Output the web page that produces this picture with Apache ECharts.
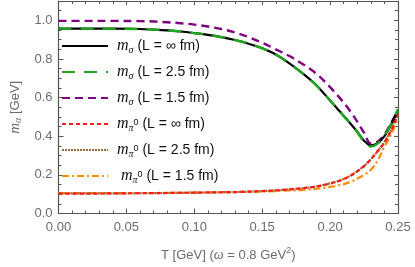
<!DOCTYPE html>
<html>
<head>
<meta charset="utf-8">
<script src="https://cdn.jsdelivr.net/npm/echarts@6/dist/echarts.min.js"></script>
<style>html,body{margin:0;padding:0;background:#fff}#c{width:415px;height:267px}</style>
</head>
<body>
<div id="c"></div>
<script>
const T = [0, 0.02, 0.04, 0.06, 0.07, 0.08, 0.09, 0.10, 0.11, 0.12, 0.13, 0.14, 0.15, 0.16, 0.17, 0.18, 0.19, 0.20, 0.205, 0.21, 0.215, 0.22, 0.225, 0.23, 0.235, 0.24, 0.245, 0.25];
const sigmaInf = [0.957, 0.957, 0.957, 0.955, 0.952, 0.948, 0.942, 0.934, 0.925, 0.913, 0.898, 0.879, 0.855, 0.823, 0.777, 0.724, 0.663, 0.585, 0.545, 0.505, 0.465, 0.423, 0.377, 0.352, 0.364, 0.400, 0.462, 0.537];
const sigma25 = [0.957, 0.957, 0.957, 0.955, 0.952, 0.948, 0.942, 0.934, 0.925, 0.913, 0.898, 0.879, 0.855, 0.823, 0.777, 0.724, 0.663, 0.585, 0.545, 0.505, 0.465, 0.422, 0.372, 0.346, 0.362, 0.403, 0.465, 0.540];
const sigma15 = [0.997, 0.997, 0.997, 0.996, 0.994, 0.990, 0.985, 0.978, 0.968, 0.955, 0.937, 0.913, 0.884, 0.850, 0.815, 0.773, 0.723, 0.654, 0.615, 0.574, 0.528, 0.476, 0.418, 0.362, 0.372, 0.410, 0.470, 0.535];
const piInf = [0.103, 0.103, 0.104, 0.105, 0.105, 0.106, 0.107, 0.108, 0.109, 0.110, 0.111, 0.113, 0.116, 0.120, 0.125, 0.131, 0.140, 0.155, 0.165, 0.178, 0.195, 0.218, 0.245, 0.280, 0.322, 0.368, 0.430, 0.515];
const pi25 = [0.104, 0.104, 0.104, 0.105, 0.105, 0.106, 0.107, 0.108, 0.109, 0.110, 0.111, 0.113, 0.116, 0.120, 0.125, 0.131, 0.140, 0.156, 0.166, 0.179, 0.196, 0.219, 0.246, 0.281, 0.323, 0.370, 0.432, 0.515];
const pi15 = [0.105, 0.105, 0.105, 0.106, 0.106, 0.107, 0.107, 0.108, 0.109, 0.110, 0.111, 0.112, 0.114, 0.116, 0.119, 0.122, 0.128, 0.138, 0.144, 0.152, 0.164, 0.180, 0.200, 0.226, 0.275, 0.345, 0.410, 0.490];
const xTicks = [0, 0.05, 0.10, 0.15, 0.20, 0.25];
const yTicks = [0, 0.2, 0.4, 0.6, 0.8, 1.0];

const names = ['sInf', 's25', 's15', 'pInf', 'p25', 'p15'];
const labels = {
  sInf: '{i|m}{sub|σ}{t| (L = ∞ fm)}',
  s25: '{i|m}{sub|σ}{t| (L = 2.5 fm)}',
  s15: '{i|m}{sub|σ}{t| (L = 1.5 fm)}',
  pInf: '{i|m}{sub|π}{sup|0}{t| (L = ∞ fm)}',
  p25: '{i|m}{sub|π}{sup|0}{t| (L = 2.5 fm)}',
  p15: '{sp| }{i|m}{sub|π}{sup|0}{t| (L = 1.5 fm)}'
};
const dataSets = [sigmaInf, sigma25, sigma15, piInf, pi25, pi15];
const styles = [
  {color: '#000000', width: 2.2, type: 'solid'},
  {color: '#1fa81f', width: 2.4, type: [13, 9]},
  {color: '#800080', width: 2.4, type: [8, 5]},
  {color: '#ff1a1a', width: 2.2, type: [4, 3]},
  {color: '#9a6a3a', width: 2.2, type: [2, 1]},
  {color: '#ff8a00', width: 2.2, type: [7, 3, 2, 3]}
];

const series = names.map((n, k) => ({
  name: n,
  type: 'line',
  data: T.map((t, i) => [t, dataSets[k][i]]),
  showSymbol: false,
  symbol: 'none',
  smooth: 0.35,
  lineStyle: styles[k],
  itemStyle: {color: styles[k].color},
  z: 10 - k
}));
series[0].z = 11; series[1].z = 12;

const axisColor = '#555';
const labelColor = '#6b6b6b';
const base = {fontFamily: 'Liberation Sans, Arial', color: labelColor, fontSize: 13};
const legRich = {
  i: {fontFamily: 'Liberation Serif', fontStyle: 'italic', fontSize: 16, color: '#111', lineHeight: 20},
  sub: {fontFamily: 'Liberation Serif', fontStyle: 'italic', fontSize: 10, color: '#111', lineHeight: 10, padding: [8, 0, 0, 0]},
  sup: {fontFamily: 'Liberation Sans', fontSize: 9, color: '#111', lineHeight: 9, padding: [0, 0, 2, 0]},
  t: {fontFamily: 'Liberation Sans', fontSize: 14, color: '#111', lineHeight: 20},
  sp: {fontSize: 13, lineHeight: 20, width: 4}
};

const chart = echarts.init(document.getElementById('c'), null, {renderer: 'canvas'});
chart.setOption({
  animation: false,
  backgroundColor: '#fff',
  grid: {left: 52, right: 17, top: 1, bottom: 53},
  legend: {
    orient: 'vertical', left: 56, top: 32,
    itemWidth: 46, itemHeight: 12, itemGap: 8,
    data: names,
    formatter: n => labels[n],
    itemStyle: {opacity: 0, color: 'transparent', borderWidth: 0},
    textStyle: {rich: legRich, padding: [0, 0, 0, 4]}
  },
  xAxis: [{
    type: 'value', min: 0, max: 0.25, interval: 0.05, position: 'bottom',
    axisLine: {show: true, onZero: false, lineStyle: {color: axisColor, width: 1.2}},
    axisTick: {show: true, inside: true, length: 5, lineStyle: {color: axisColor}},
    minorTick: {show: true, splitNumber: 5, length: 3, lineStyle: {color: axisColor}},
    splitLine: {show: false},
    axisLabel: Object.assign({margin: 7, formatter: v => xTicks.some(t => Math.abs(t - v) < 1e-9) ? v.toFixed(2) : ''}, base),
    name: 'T [GeV] ({w|ω} = 0.8 GeV{s|2})', nameLocation: 'middle', nameGap: 33,
    nameTextStyle: Object.assign({rich: {
      w: {fontFamily: 'Liberation Serif', fontStyle: 'italic', fontSize: 14, color: labelColor},
      s: {fontFamily: 'Liberation Sans', fontSize: 9, color: labelColor, padding: [0, 0, 8, 0]}
    }}, base)
  }, {
    type: 'value', min: 0, max: 0.25, interval: 0.05, position: 'top',
    axisLine: {show: true, onZero: false, lineStyle: {color: axisColor, width: 1.2}},
    axisTick: {show: true, inside: true, length: 4, lineStyle: {color: axisColor}},
    minorTick: {show: true, splitNumber: 5, length: 3, lineStyle: {color: axisColor}},
    splitLine: {show: false}, axisLabel: {show: false}
  }],
  yAxis: [{
    type: 'value', min: 0, max: 1.1, interval: 0.2, position: 'left',
    axisLine: {show: true, onZero: false, lineStyle: {color: axisColor, width: 1.2}},
    axisTick: {show: true, inside: true, length: 5, lineStyle: {color: axisColor}},
    minorTick: {show: true, splitNumber: 4, length: 3, lineStyle: {color: axisColor}},
    splitLine: {show: false},
    axisLabel: Object.assign({margin: 6, showMaxLabel: false, formatter: v => yTicks.some(t => Math.abs(t - v) < 1e-9) ? v.toFixed(1) : ''}, base),
    name: '{i|m}{s|α} [GeV]', nameLocation: 'middle', nameGap: 35, nameRotate: 90,
    nameTextStyle: Object.assign({rich: {
      i: {fontFamily: 'Liberation Serif', fontStyle: 'italic', fontSize: 15, color: labelColor},
      s: {fontFamily: 'Liberation Serif', fontStyle: 'italic', fontSize: 10, color: labelColor, padding: [6, 0, 0, 0]}
    }}, base)
  }, {
    type: 'value', min: 0, max: 1.1, interval: 0.2, position: 'right',
    axisLine: {show: true, onZero: false, lineStyle: {color: axisColor, width: 1.2}},
    axisTick: {show: true, inside: true, length: 4, lineStyle: {color: axisColor}},
    minorTick: {show: true, splitNumber: 4, length: 3, lineStyle: {color: axisColor}},
    splitLine: {show: false}, axisLabel: {show: false}
  }],
  series: series
});
</script>
</body>
</html>
